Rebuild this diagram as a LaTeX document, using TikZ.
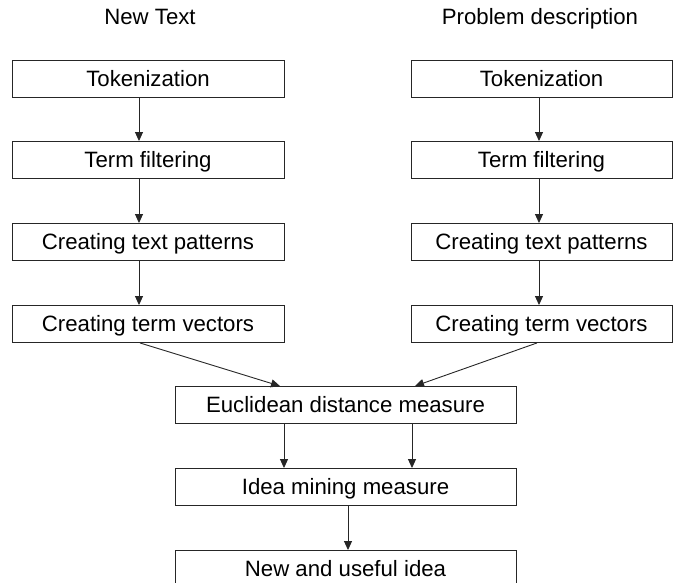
\documentclass[tikz,border=0pt]{standalone}
\usepackage{fontspec}
\setmainfont{Liberation Sans}
\usetikzlibrary{arrows.meta}
\begin{document}
\begin{tikzpicture}[x=1pt,y=-1pt,
  box/.style={draw=black!85, line width=0.9pt, minimum height=37pt, inner sep=0pt,
    text height=15.9pt, text depth=0pt, font=\fontsize{22.2}{24}\selectfont},
  lbox/.style={box, minimum width=272pt},
  rbox/.style={box, minimum width=261pt},
  cbox/.style={box, minimum width=341pt},
  title/.style={font=\fontsize{22.2}{24}\selectfont, inner sep=0pt, anchor=base},
  arr/.style={draw=black!85, line width=0.9pt, -{Triangle[length=9pt,width=8pt]}}]
\useasboundingbox (0,0) rectangle (674,583);
\node[title] (tl) at (150,25) {New Text};
\node[title] (tr) at (540,25) {Problem description};
\node[lbox] (l1) at (148,78.5) {Tokenization};
\node[lbox] (l2) at (148,160) {Term filtering};
\node[lbox] (l3) at (148,242) {Creating text patterns};
\node[lbox] (l4) at (148,324) {Creating term vectors};
\node[rbox] (r1) at (541.5,78.5) {Tokenization};
\node[rbox] (r2) at (541.5,160) {Term filtering};
\node[rbox] (r3) at (541.5,242) {Creating text patterns};
\node[rbox] (r4) at (541.5,324) {Creating term vectors};
\node[cbox] (eu) at (345.5,405) {Euclidean distance measure};
\node[cbox] (im) at (345.5,487) {Idea mining measure};
\node[cbox] (nu) at (345.5,569) {New and useful idea};
\draw[arr] ([xshift=-9pt]l1.south) -- ([xshift=-9pt]l2.north);
\draw[arr] ([xshift=-9pt]l2.south) -- ([xshift=-9pt]l3.north);
\draw[arr] ([xshift=-9pt]l3.south) -- ([xshift=-9pt]l4.north);
\draw[arr] ([xshift=-2.5pt]r1.south) -- ([xshift=-2.5pt]r2.north);
\draw[arr] ([xshift=-2.5pt]r2.south) -- ([xshift=-2.5pt]r3.north);
\draw[arr] ([xshift=-2.5pt]r3.south) -- ([xshift=-2.5pt]r4.north);
\draw[arr] ([xshift=-8pt]l4.south) -- ([xshift=-65.5pt]eu.north);
\draw[arr] ([xshift=-4.5pt]r4.south) -- ([xshift=69.5pt]eu.north);
\draw[arr] ([xshift=-61.5pt]eu.south) -- ([xshift=-61.5pt]im.north);
\draw[arr] ([xshift=66.5pt]eu.south) -- ([xshift=66.5pt]im.north);
\draw[arr] ([xshift=2.5pt]im.south) -- ([xshift=2.5pt]nu.north);
\end{tikzpicture}
\end{document}
